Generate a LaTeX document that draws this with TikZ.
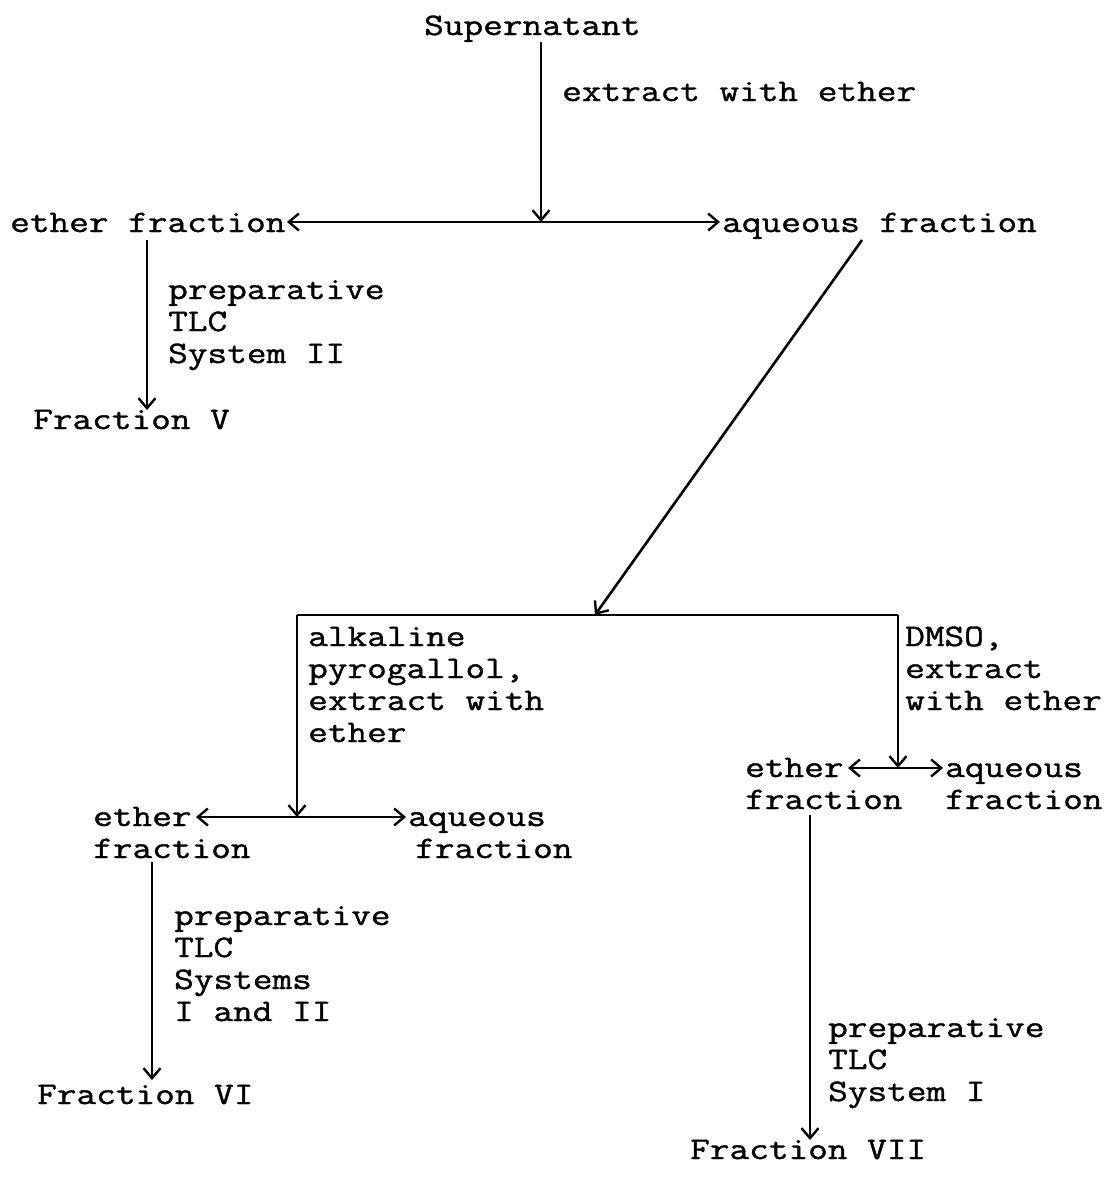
\documentclass[tikz,border=0pt]{standalone}
\usepackage{fontspec}
\newfontfamily\tw{Latin Modern Mono}[FakeBold=1.2,FakeStretch=1.22]
\usetikzlibrary{arrows.meta}
\begin{document}
\begin{tikzpicture}[x=1pt,y=-1pt,
  txt/.style={font=\tw\fontsize{31.3}{32}\selectfont, inner sep=0pt, anchor=base west, align=left},
  arr/.style={line width=2.6pt, -{Straight Barb[length=10pt,width=17pt,line width=2.4pt]}},
  ln/.style={line width=2.6pt}]
\useasboundingbox[fill=white] (0,0) rectangle (1113,1191);
% texts (multi-line nodes are placed at the baseline of their last line)
\node[txt] (sup) at (424,35) {Supernatant};
\node[txt] (l1) at (562,101) {extract with ether};
\node[txt] (ef1) at (10,232) {ether fraction};
\node[txt] (aq1) at (722,232) {aqueous fraction};
\node[txt] (l2) at (168,363) {preparative\\TLC\\System II};
\node[txt] (f5) at (33,429) {Fraction V};
\node[txt] (l3) at (308,742) {alkaline\\pyrogallol,\\extract with\\ether};
\node[txt] (l4) at (905,710) {DMSO,\\extract\\with ether};
\node[txt] (ef2) at (93,858) {ether\\fraction};
\node[txt] (aq2) at (408,858) {aqueous\\\hspace*{7pt}fraction};
\node[txt] (l5) at (174,1021) {preparative\\TLC\\Systems\\I and II};
\node[txt] (f6) at (37,1104) {Fraction VI};
\node[txt] (ef3) at (745,809) {ether\\fraction};
\node[txt] (aq3) at (945,809) {aqueous\\fraction};
\node[txt] (l6) at (828,1101) {preparative\\TLC\\System I};
\node[txt] (f7) at (690,1159) {Fraction VII};
% junctions
\coordinate (j1) at (541,222);
\coordinate (j2) at (595,615);
\coordinate (jl) at (297,615);
\coordinate (jr) at (898,615);
\coordinate (j3) at (297,817);
\coordinate (j4) at (898,768);
% connectors
\draw[arr] (541,42) -- (j1);
\draw[arr] (j1) -- (287,222);
\draw[arr] (j1) -- (720,222);
\draw[arr] (147,240) -- (147,410);
\draw[arr] (862,240) -- (j2);
\draw[ln] (jl) -- (jr);
\draw[arr] (jl) -- (j3);
\draw[arr] (jr) -- (j4);
\draw[arr] (j3) -- (196,817);
\draw[arr] (j3) -- (406,817);
\draw[arr] (j4) -- (848,768);
\draw[arr] (j4) -- (943,768);
\draw[arr] (152,862) -- (152,1080);
\draw[arr] (810,815) -- (810,1140);
\end{tikzpicture}
\end{document}
